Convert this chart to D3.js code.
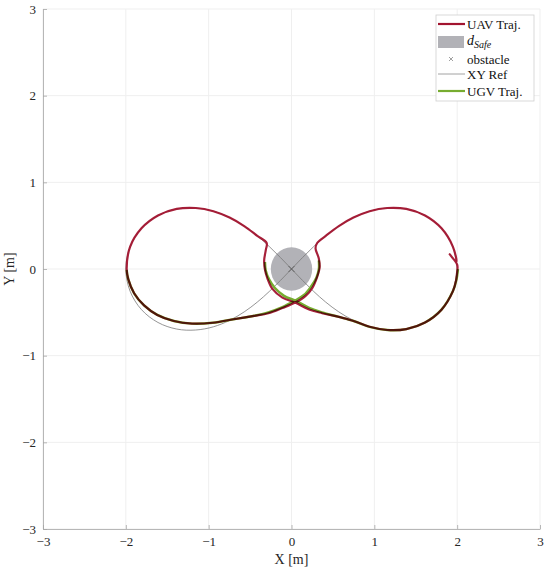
<!DOCTYPE html>
<html>
<head>
<meta charset="utf-8">
<script src="https://cdn.jsdelivr.net/npm/d3@7"></script>
<style>
  body { margin: 0; background: #fff; }
  svg { font-family: "Liberation Serif", "DejaVu Serif", serif; }
</style>
</head>
<body>
<svg id="chart" width="550" height="572"></svg>
<script>
// tick values
const xTicks = [-3, -2, -1, 0, 1, 2, 3];
const yTicks = [-3, -2, -1, 0, 1, 2, 3];

// XY reference (figure eight)
const refX = [2.000, 1.949, 1.811, 1.612, 1.386, 1.157, 0.943, 0.748, 0.571, 0.413, 0.268, 0.132, 0.000,
  -0.132, -0.268, -0.413, -0.571, -0.748, -0.943, -1.157, -1.386, -1.612, -1.811, -1.949, -2.000,
  -1.949, -1.811, -1.612, -1.386, -1.157, -0.943, -0.748, -0.571, -0.413, -0.268, -0.132, 0.000,
  0.132, 0.268, 0.413, 0.571, 0.748, 0.943, 1.157, 1.386, 1.612, 1.811, 1.949, 2.000];
const refY = [0.000, 0.255, 0.469, 0.617, 0.693, 0.704, 0.667, 0.593, 0.495, 0.382, 0.259, 0.131, 0.000,
  -0.131, -0.259, -0.382, -0.495, -0.593, -0.667, -0.704, -0.693, -0.617, -0.469, -0.255, 0.000,
  0.255, 0.469, 0.617, 0.693, 0.704, 0.667, 0.593, 0.495, 0.382, 0.259, 0.131, 0.000,
  -0.131, -0.259, -0.382, -0.495, -0.593, -0.667, -0.704, -0.693, -0.617, -0.469, -0.255, 0.000];

// UAV trajectory
const uavX = [2.00, 2.00, 1.91, 1.99, 1.949, 1.811, 1.612, 1.386, 1.157, 0.943, 0.748, 0.571, 0.413, 0.31,
  0.29, 0.33, 0.34, 0.31, 0.25, 0.17, 0.04, -0.11, -0.28, -0.45, -0.70, -0.95, -1.20, -1.42, -1.62, -1.78, -1.90, -1.97, -1.99,
  -1.949, -1.811, -1.612, -1.386, -1.157, -0.943, -0.748, -0.571, -0.413, -0.30,
  -0.31, -0.33, -0.32, -0.29, -0.23, -0.11, 0.05, 0.22, 0.37, 0.56, 0.75, 0.943, 1.157, 1.386, 1.612, 1.811, 1.949, 1.987, 2.00];
const uavY = [-0.03, 0.05, 0.17, 0.08, 0.255, 0.469, 0.617, 0.693, 0.704, 0.667, 0.593, 0.495, 0.382, 0.30,
  0.24, 0.12, 0.02, -0.09, -0.22, -0.31, -0.39, -0.45, -0.51, -0.54, -0.58, -0.62, -0.63, -0.60, -0.53, -0.42, -0.28, -0.12, 0.00,
  0.255, 0.469, 0.617, 0.693, 0.704, 0.667, 0.593, 0.495, 0.382, 0.30,
  0.22, 0.10, -0.01, -0.11, -0.23, -0.33, -0.39, -0.47, -0.51, -0.55, -0.60, -0.667, -0.704, -0.693, -0.617, -0.469, -0.255, -0.13, -0.03];

// UGV trajectory (two stretches, null = gap)
const ugvX = [0.33, 0.33, 0.30, 0.23, 0.15, 0.03, -0.11, -0.28, -0.45, -0.70, -0.95, -1.20, -1.42, -1.62, -1.78, -1.90, -1.97, -1.99,
  null,
  -0.32, -0.31, -0.27, -0.20, -0.09, 0.06, 0.22, 0.37, 0.56, 0.75, 0.943, 1.157, 1.386, 1.612, 1.811, 1.949, 1.99, 2.01];
const ugvY = [0.10, 0.00, -0.10, -0.21, -0.30, -0.37, -0.44, -0.50, -0.54, -0.58, -0.62, -0.63, -0.60, -0.53, -0.42, -0.28, -0.12, -0.01,
  null,
  0.08, -0.02, -0.12, -0.22, -0.31, -0.37, -0.45, -0.50, -0.55, -0.60, -0.667, -0.704, -0.693, -0.617, -0.469, -0.255, -0.13, 0.00];

// obstacle
const obstacleX = [0];
const obstacleY = [0];
const safeRadius = [0.25];

const svg = d3.select('#chart');
const mLeft = 43, mRight = 540, mTop = 9, mBottom = 529;

const x = d3.scaleLinear().domain([-3, 3]).range([mLeft, mRight]);
const y = d3.scaleLinear().domain([-3, 3]).range([mBottom, mTop]);

// grid
svg.append('g').selectAll('line').data(xTicks).join('line')
  .attr('x1', d => x(d)).attr('x2', d => x(d))
  .attr('y1', mTop).attr('y2', mBottom)
  .attr('stroke', '#efefef').attr('stroke-width', 1);
svg.append('g').selectAll('line').data(yTicks).join('line')
  .attr('y1', d => y(d)).attr('y2', d => y(d))
  .attr('x1', mLeft).attr('x2', mRight)
  .attr('stroke', '#efefef').attr('stroke-width', 1);

// axes
const fmt = d3.format('d');
const xAxis = svg.append('g')
  .attr('transform', 'translate(0,' + mBottom + ')')
  .call(d3.axisBottom(x).tickValues(xTicks).tickFormat(fmt).tickSizeInner(-4).tickSizeOuter(0).tickPadding(8));
const yAxis = svg.append('g')
  .attr('transform', 'translate(' + mLeft + ',0)')
  .call(d3.axisLeft(y).tickValues(yTicks).tickFormat(fmt).tickSizeInner(-4).tickSizeOuter(0).tickPadding(7));
[xAxis, yAxis].forEach(a => {
  a.select('.domain').attr('stroke', '#a6a6a6').attr('stroke-width', 0.8);
  a.selectAll('.tick line').attr('stroke', '#a6a6a6').attr('stroke-width', 0.8);
  a.selectAll('text').attr('fill', '#262626').style('font-size', '13px')
    .style('font-family', '"Liberation Serif", serif');
});

// axis labels
svg.append('text').attr('x', x(0)).attr('y', 564).attr('text-anchor', 'middle')
  .attr('fill', '#262626').style('font-size', '14px').text('X [m]');
svg.append('text').attr('transform', 'translate(14,' + y(0) + ') rotate(-90)')
  .attr('text-anchor', 'middle').attr('fill', '#262626').style('font-size', '14px').text('Y [m]');

// safe distance circle
svg.append('g').selectAll('ellipse').data(obstacleX).join('ellipse')
  .attr('cx', (d, i) => x(d)).attr('cy', (d, i) => y(obstacleY[i]))
  .attr('rx', (d, i) => x(safeRadius[i]) - x(0))
  .attr('ry', (d, i) => y(0) - y(safeRadius[i]))
  .attr('fill', '#b2b2b7');

const line = d3.line()
  .defined(d => d[0] !== null)
  .x(d => x(d[0])).y(d => y(d[1]))
  .curve(d3.curveCatmullRom.alpha(0.5));

// reference
svg.append('path')
  .datum(refX.map((v, i) => [v, refY[i]]))
  .attr('d', line)
  .attr('fill', 'none').attr('stroke', '#7a7a7a').attr('stroke-width', 0.8);

// obstacle marker
const xs = 3;
svg.append('g').selectAll('path').data(obstacleX).join('path')
  .attr('d', (d, i) => {
    const cx = x(d), cy = y(obstacleY[i]);
    return 'M' + (cx - xs) + ',' + (cy - xs) + 'L' + (cx + xs) + ',' + (cy + xs) +
      'M' + (cx - xs) + ',' + (cy + xs) + 'L' + (cx + xs) + ',' + (cy - xs);
  })
  .attr('stroke', '#555').attr('stroke-width', 0.8);

// trajectories in their own group, so the UAV only blends with the UGV line
const traj = svg.append('g').style('isolation', 'isolate');

// UGV trajectory
traj.append('path')
  .datum(ugvX.map((v, i) => [v, ugvY[i]]))
  .attr('d', line)
  .attr('fill', 'none').attr('stroke', '#77ac30').attr('stroke-width', 2.4)
  .attr('stroke-linejoin', 'round');

// UAV trajectory
traj.append('path')
  .datum(uavX.map((v, i) => [v, uavY[i]]))
  .attr('d', line)
  .attr('fill', 'none').attr('stroke', '#a2142f').attr('stroke-width', 2.2)
  .attr('stroke-linejoin', 'round')
  .attr('opacity', 0.95)
  .style('mix-blend-mode', 'multiply');

// legend
const lg = svg.append('g').attr('transform', 'translate(436,15)');
lg.append('rect').attr('width', 98).attr('height', 86)
  .attr('fill', '#fff').attr('stroke', '#cfcfcf').attr('stroke-width', 0.8);
const rows = [9, 27, 44, 59, 76];
lg.append('line').attr('x1', 2).attr('x2', 29).attr('y1', rows[0]).attr('y2', rows[0])
  .attr('stroke', '#a2142f').attr('stroke-width', 2.2);
lg.append('rect').attr('x', 2).attr('y', rows[1] - 6).attr('width', 26).attr('height', 12)
  .attr('fill', '#b2b2b7');
lg.append('path')
  .attr('d', 'M13,' + (rows[2] - 2) + 'L17,' + (rows[2] + 2) + 'M13,' + (rows[2] + 2) + 'L17,' + (rows[2] - 2))
  .attr('stroke', '#777').attr('stroke-width', 0.7);
lg.append('line').attr('x1', 2).attr('x2', 29).attr('y1', rows[3]).attr('y2', rows[3])
  .attr('stroke', '#8a8a8a').attr('stroke-width', 0.8);
lg.append('line').attr('x1', 2).attr('x2', 29).attr('y1', rows[4]).attr('y2', rows[4])
  .attr('stroke', '#77ac30').attr('stroke-width', 2.2);

const labels = ['UAV Traj.', null, 'obstacle', 'XY Ref', 'UGV Traj.'];
labels.forEach((t, i) => {
  if (t === null) return;
  lg.append('text').attr('x', 31).attr('y', rows[i] + 4.5)
    .attr('fill', '#111').style('font-size', '13px').text(t);
});
const ds = lg.append('text').attr('x', 31).attr('y', rows[1] + 3)
  .attr('fill', '#111').style('font-size', '14px').style('font-style', 'italic');
ds.append('tspan').text('d');
ds.append('tspan').attr('dy', 3).style('font-size', '10px').text('Safe');
</script>
</body>
</html>
